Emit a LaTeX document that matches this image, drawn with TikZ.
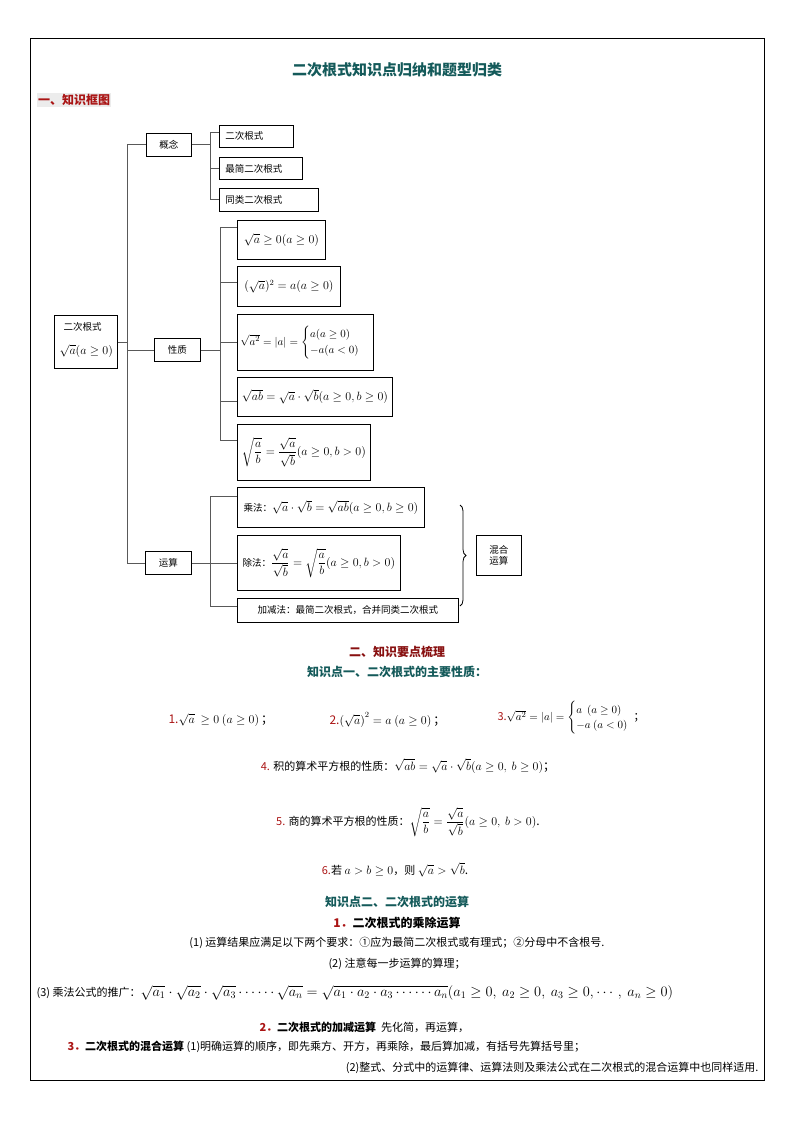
\documentclass[tikz,border=0pt]{standalone}
\usepackage{amsmath,amssymb}
\usepackage{fontspec}
\setmainfont{Liberation Serif}
\newfontfamily\cjk{Noto Sans CJK SC}
\usetikzlibrary{positioning,calc,decorations.pathreplacing}
\definecolor{tealhead}{RGB}{20,90,90}
\definecolor{redhead}{RGB}{170,20,20}

\begin{document}
\begin{tikzpicture}[x=1pt, y=-1pt,
    box/.style={draw, thick, anchor=north west, inner sep=0pt, font=\cjk\fontsize{9.5}{11}\selectfont},
    formula/.style={box, inner xsep=3pt, font=\cjk\fontsize{12}{14}\selectfont},
    conn/.style={thick, gray!70!black},
    headline/.style={font=\cjk\bfseries\fontsize{12}{14}\selectfont},
    bodytext/.style={font=\cjk\fontsize{11}{13}\selectfont}
]
\useasboundingbox (0,0) rectangle (794,1123);
\draw[thick] (30,38) rectangle (764,1080);

% ============ TITRES ============
\node[font=\cjk\bfseries\fontsize{15}{17}\selectfont, text=tealhead] (title) at (397,70) {二次根式知识点归纳和题型归类};
\node[fill=gray!15, inner sep=1pt, font=\cjk\bfseries\fontsize{12}{14}\selectfont, text=redhead, anchor=west] (sec-one) at (37,100) {一、知识框图};

% ============ ARBRE ============
\node[box, minimum width=63pt, minimum height=53pt] (root) at (54,315) {};
\node[font=\cjk\fontsize{9.5}{11}\selectfont, anchor=west] (root-name) at (60,327) {二次根式};
\node[anchor=west, font=\fontsize{12}{14}\selectfont] (root-cond) at (56,351) {$\sqrt{a}(a\ge 0)$};

\node[box, minimum width=45pt, minimum height=23pt] (concept) at (146,133) {概念};
\node[box, minimum width=74pt, minimum height=22pt, text width=70pt, align=left] (def-one) at (219,125) {\hspace{4pt}二次根式};
\node[box, minimum width=83pt, minimum height=22pt, text width=79pt, align=left] (def-two) at (219,157) {\hspace{4pt}最简二次根式};
\node[box, minimum width=99pt, minimum height=23pt, text width=95pt, align=left] (def-three) at (219,188) {\hspace{4pt}同类二次根式};

\node[box, minimum width=46pt, minimum height=23pt] (prop) at (154,338) {性质};
\node[formula, minimum width=88pt, minimum height=39pt] (prop-one) at (237,220) {$\sqrt{a}\ge 0(a\ge 0)$};
\node[formula, minimum width=103pt, minimum height=40pt] (prop-two) at (237,266) {$(\sqrt{a})^2=a(a\ge 0)$};
\node[formula, minimum width=133pt, minimum height=56pt, font=\fontsize{11}{13}\selectfont] (prop-three) at (237,314) {$\sqrt{a^2}=|a|=\begin{cases}a(a\ge 0)\\-a(a<0)\end{cases}$};
\node[formula, minimum width=155pt, minimum height=39pt] (prop-four) at (237,377) {$\sqrt{ab}=\sqrt{a}\cdot\sqrt{b}(a\ge 0,b\ge 0)$};
\node[formula, minimum width=133pt, minimum height=56pt] (prop-five) at (237,424) {$\sqrt{\dfrac{a}{b}}=\dfrac{\sqrt{a}}{\sqrt{b}}(a\ge 0,b>0)$};

\node[box, minimum width=46pt, minimum height=23pt] (ops) at (145,551) {运算};
\node[box, inner xsep=4pt, minimum width=187pt, minimum height=40pt] (op-mul) at (237,487) {乘法：\fontsize{12}{14}\selectfont$\sqrt{a}\cdot\sqrt{b}=\sqrt{ab}(a\ge 0,b\ge 0)$};
\node[box, inner xsep=4pt, minimum width=163pt, minimum height=55pt] (op-div) at (237,535) {除法：\fontsize{12}{14}\selectfont$\dfrac{\sqrt{a}}{\sqrt{b}}=\sqrt{\dfrac{a}{b}}(a\ge 0,b>0)$};
\node[box, minimum width=221pt, minimum height=24pt] (op-add) at (237,598) {加减法：最简二次根式，合并同类二次根式};
\node[box, minimum width=45pt, minimum height=40pt, align=center] (mixed) at (476,535) {混合\\运算};

\coordinate (brace-top) at (460,505);
\coordinate (brace-bot) at (460,606);
\draw[thick, decorate, decoration={brace, amplitude=6pt}] (brace-top) -- (brace-bot);

% connexions
\draw[conn] (root.east) -- ++(10,0) |- (concept.west);
\draw[conn] (root.east) -- ++(10,0) |- (prop.west);
\draw[conn] (root.east) -- ++(10,0) |- (ops.west);
\draw[conn] (concept.east) -- ++(19,0) |- ($(def-one.west)+(0,-4)$);
\draw[conn] (concept.east) -- ++(19,0) |- (def-two.west);
\draw[conn] (concept.east) -- ++(19,0) |- (def-three.west);
\foreach \p/\dy in {prop-one/-12, prop-two/-4, prop-three/0, prop-four/4, prop-five/-12}
  \draw[conn] (prop.east) -- ++(20,0) |- ($(\p.west)+(0,\dy)$);
\draw[conn] (ops.east) -- ++(19,0) |- ($(op-mul.west)+(0,-11)$);
\draw[conn] (ops.east) -- ++(19,0) |- (op-div.west);
\draw[conn] (ops.east) -- ++(19,0) |- ($(op-add.west)+(0,-4)$);

% ============ POINTS CLES ============
\node[headline, text=redhead!80!black] (sec-two) at (397,652) {二、知识要点梳理};
\node[headline, text=tealhead] (kp-one) at (397,672) {知识点一、二次根式的主要性质：};

\node[bodytext, anchor=west, font=\cjk\fontsize{12}{14}\selectfont] (item-one) at (165,720) {\textcolor{redhead}{1.}$\sqrt{a}\ \ge 0\ (a\ge 0)$\,；};
\node[bodytext, anchor=west, font=\cjk\fontsize{12}{14}\selectfont] (item-two) at (326,720) {\textcolor{redhead}{2.}$\left(\sqrt{a}\right)^2=a\ (a\ge 0)$\,；};
\node[bodytext, anchor=west, font=\cjk\fontsize{11}{13}\selectfont] (item-three) at (494,718) {\textcolor{redhead}{3.}$\sqrt{a^2}=|a|=\begin{cases}a\ \ (a\ge 0)\\-a\ (a<0)\end{cases}$\hspace{-6pt}；};
\node[bodytext] (item-four) at (408,766) {\textcolor{redhead}{4.} 积的算术平方根的性质：\fontsize{12}{14}\selectfont$\sqrt{ab}=\sqrt{a}\cdot\sqrt{b}(a\ge 0,\ b\ge 0)$；};
\node[bodytext] (item-five) at (408,822) {\textcolor{redhead}{5.} 商的算术平方根的性质：\fontsize{12}{14}\selectfont$\sqrt{\dfrac{a}{b}}=\dfrac{\sqrt{a}}{\sqrt{b}}(a\ge 0,\ b>0)$.};
\node[bodytext] (item-six) at (395,870) {\textcolor{redhead}{6.}若 \fontsize{12}{14}\selectfont$a>b\ge 0$\fontsize{11}{13}\selectfont，则 \fontsize{12}{14}\selectfont$\sqrt{a}>\sqrt{b}$.};

\node[headline, text=tealhead] (kp-two) at (397,902) {知识点二、二次根式的运算};
\node[headline] (op-title-one) at (397,923) {\textcolor{redhead}{1．}二次根式的乘除运算};
\node[bodytext] (rule-one) at (397,943) {(1) 运算结果应满足以下两个要求：①应为最简二次根式或有理式；②分母中不含根号.};
\node[bodytext] (rule-two) at (397,964) {(2) 注意每一步运算的算理；};
\node[anchor=west, font=\cjk\fontsize{11}{13}\selectfont] (rule-three) at (33,993) {(3) 乘法公式的推广：\fontsize{14.5}{16}\selectfont$\sqrt{a_1}\cdot\sqrt{a_2}\cdot\sqrt{a_3}\cdots\cdots\sqrt{a_n}=\sqrt{a_1\cdot a_2\cdot a_3\cdots\cdots a_n}(a_1\ge 0,\ a_2\ge 0,\ a_3\ge 0,\cdots,\ a_n\ge 0)$};
\node[bodytext, anchor=west] (op-title-two) at (256,1027) {\textbf{\textcolor{redhead}{2．}二次根式的加减运算}\ \ 先化简，再运算，};
\node[bodytext, anchor=west] (op-title-three) at (64,1047) {\textbf{\textcolor{redhead}{3．}二次根式的混合运算}\ (1)明确运算的顺序，即先乘方、开方，再乘除，最后算加减，有括号先算括号里；};
\node[bodytext, anchor=east] (mix-rule-two) at (762,1068) {(2)整式、分式中的运算律、运算法则及乘法公式在二次根式的混合运算中也同样适用.};
\end{tikzpicture}
\end{document}
